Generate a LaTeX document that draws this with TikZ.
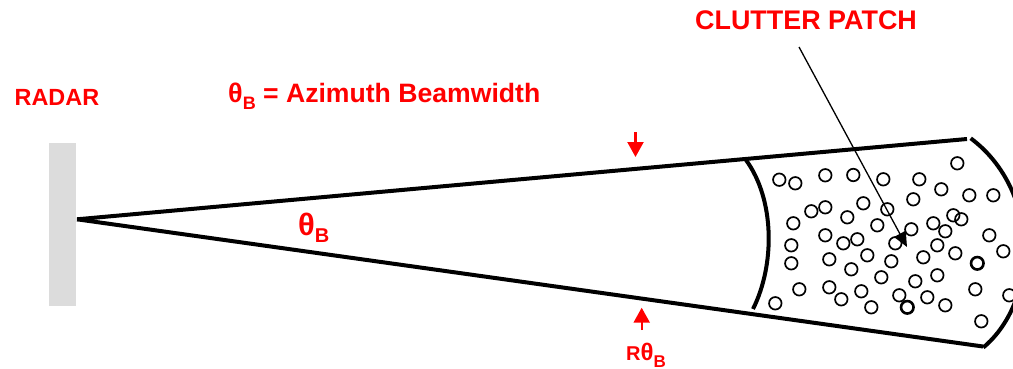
\documentclass[tikz,border=0pt]{standalone}
\usepackage{fontspec}
\setmainfont{Liberation Sans}
\usetikzlibrary{arrows.meta}
\definecolor{radargray}{HTML}{DCDCDC}
\tikzset{
  lbl/.style={text=red,anchor=base west,inner sep=0pt,font=\bfseries},
  beam/.style={line width=4pt,line cap=butt},
  dot/.style={circle,draw=black,line width=1.7pt,minimum size=12.5pt,inner sep=0pt},
  thickdot/.style={circle,draw=black,line width=2.6pt,minimum size=12.5pt,inner sep=0pt},
  redarrow/.style={draw=red,line width=2.2pt,-{Triangle[length=15pt,width=16pt,fill=red]}},
  pointer/.style={draw=black,line width=1.3pt,-{Triangle[length=15pt,width=13pt,fill=black]}}
}
\newcommand{\fs}[1]{\fontsize{#1}{#1}\selectfont}
\begin{document}
\begin{tikzpicture}[x=1pt,y=-1pt]
\useasboundingbox (0,0) rectangle (1013,369);
\clip (0,0) rectangle (1013,369);
\node[fill=radargray,minimum width=27pt,minimum height=163pt,inner sep=0pt] (radar) at (62.5,224.5) {};
\coordinate (apex) at (77,219.3);
\coordinate (topin) at (746,160);
\coordinate (topout) at (967,139);
\coordinate (botin) at (752,310.5);
\coordinate (botout) at (983,346.5);
\draw[beam] (apex) -- (topout);
\draw[beam] (apex) -- (botout);
\draw[beam] (topin) .. controls (775,200) and (775,265) .. (753,309);
\draw[beam] (970.7,138.3) .. controls (1040,190) and (1040,300) .. (983.3,347.5);
\foreach \x/\y [count=\i] in {779.3/179.7,795.3/183.3,825.3/175.3,853.3/175,883.3/179.3,919.3/179.3,957.3/163.3,941.3/189.3,969.3/195.3,993.3/195.3,913.3/199.3,863.3/203.3,811.3/211.3,825.3/207.3,793.3/223.3,847.3/217.3,887.3/209.3,877.3/225.3,953.3/215.3,961.3/219.3,933.3/223.3,945.3/231.3,911.3/229.3,825.3/235.3,857.3/239.3,843.3/243.3,895.3/243.3,791.3/245.3,937.3/245.3,989.3/235.3,1003.3/251.3,955.3/253.3,923.3/257.3,867.3/255.3,829.3/259.3,791.3/263.3,891.3/261.3,851.3/269.3,881.3/277.3,937.3/275.3,915.3/281.3,799.3/289.3,829.3/287.3,861.3/291.3,841.3/299.3,899.3/295.3,975.3/289.3,1009.3/295.3,927.3/297.3,945.3/305.3,775.3/303.3,871.3/307.3,981.3/321.3}
  \node[dot] (c\i) at (\x,\y) {};
\node[thickdot] (t1) at (977.3,263.3) {};
\node[thickdot] (t2) at (907.3,307.3) {};
\node[lbl] (lradar) at (14.5,105.7) {\fs{23.4}RADAR};
\node[lbl] (lbw) at (228,102.5) {\fs{27}θ\raisebox{-7pt}{\fs{18}B}\fs{26.6} = Azimuth Beamwidth};
\node[lbl] (lang) at (298,235) {\fs{31}θ\raisebox{-7pt}{\fs{20}B}};
\node[lbl] (lclutter) at (695,30) {\fs{26.9}CLUTTER PATCH};
\node[lbl] (lr) at (626,360) {\fs{20}R\fs{24}θ\raisebox{-7pt}{\fs{17}B}};
\coordinate (ptstart) at (799,47);
\coordinate (pttip) at (907,247);
\draw[pointer] (ptstart) -- (pttip);
\coordinate (a1s) at (635.5,132);
\coordinate (a1e) at (635.5,157);
\draw[redarrow] (a1s) -- (a1e);
\coordinate (a2s) at (641.7,330);
\coordinate (a2e) at (641.7,307.7);
\draw[redarrow] (a2s) -- (a2e);
\end{tikzpicture}
\end{document}
